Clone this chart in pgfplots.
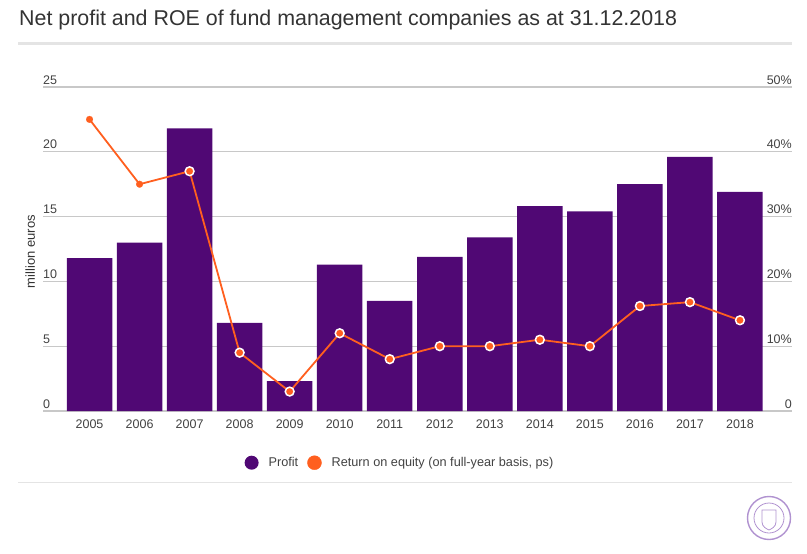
\documentclass[border=0pt]{standalone}
\usepackage{pgfplots}
\pgfplotsset{compat=1.18}
\usepackage{fontspec}
\setmainfont{Liberation Sans}
\definecolor{barpurple}{RGB}{80,8,116}
\definecolor{roeorange}{RGB}{255,95,31}
\definecolor{gridgray}{RGB}{200,200,200}
\definecolor{txtgray}{RGB}{66,66,66}
\definecolor{titlegray}{RGB}{51,51,51}
\definecolor{sealpurple}{RGB}{176,146,208}
\definecolor{rulegray}{RGB}{228,228,228}

\pgfplotstableread{
x profit
0 11.8
1 13.0
2 21.8
3 6.8
4 2.3
5 11.3
6 8.5
7 11.9
8 13.4
9 15.8
10 15.4
11 17.5
12 19.6
13 16.9
}\profittable

\pgfplotstableread{
x roe
0 45.0
1 35.0
2 37.0
3 9.0
4 3.0
5 12.0
6 8.0
7 10.0
8 10.0
9 11.0
10 10.0
11 16.2
12 16.8
13 14.0
}\roetable

\pgfplotstableread{
x roe
0 45.0
1 35.0
}\roeplain

\pgfplotstableread{
x roe
2 37.0
3 9.0
4 3.0
5 12.0
6 8.0
7 10.0
8 10.0
9 11.0
10 10.0
11 16.2
12 16.8
13 14.0
}\roering

\begin{document}
\begin{tikzpicture}
\useasboundingbox (0pt,0pt) rectangle (807pt,-554pt);
\node[anchor=base west, inner sep=0, font=\fontsize{21.4}{25}\selectfont, text=titlegray] at (19pt,-26pt) {Net profit and ROE of fund management companies as at 31.12.2018};
\draw[line width=3pt, rulegray] (18pt,-43pt) -- (791.5pt,-43pt);
\draw[line width=1.2pt, rulegray] (18pt,-482.3pt) -- (791.7pt,-482.3pt);

% seal
\draw[sealpurple, line width=1.4pt] (769pt,-518pt) circle (21.5pt);
\draw[sealpurple, line width=0.8pt] (769pt,-518pt) circle (15pt);
\draw[sealpurple, line width=0.8pt] (762pt,-510pt) -- (776pt,-510pt) -- (776pt,-522pt) .. controls (776pt,-527pt) and (771pt,-529pt) .. (769pt,-530pt) .. controls (767pt,-529pt) and (762pt,-527pt) .. (762pt,-522pt) -- cycle;

\begin{axis}[
  at={(43pt,-411pt)}, anchor=south west, scale only axis,
  width=749pt, height=324pt,
  xmin=-0.93, xmax=14.04, ymin=0, ymax=25,
  axis line style={draw=none},
  major tick length=0pt,
  xtick={0,1,2,3,4,5,6,7,8,9,10,11,12,13},
  xticklabels={2005,2006,2007,2008,2009,2010,2011,2012,2013,2014,2015,2016,2017,2018},
  ytick={0,5,10,15,20,25},
  yticklabels={0,5,10,15,20,25},
  ymajorgrids,
  grid style={gridgray, line width=1.3pt},
  yticklabel style={anchor=south west, inner sep=0pt, yshift=2.5pt, font=\fontsize{12.5}{14}\selectfont, text=txtgray},
  xticklabel style={anchor=center, inner sep=0pt, yshift=-13pt, font=\fontsize{12.5}{14}\selectfont, text=txtgray},
  ylabel={million euros},
  ylabel style={at={(axis description cs:-0.0105,0.492)}, anchor=south, inner sep=0pt, font=\fontsize{13}{15}\selectfont, text=titlegray},
  legend style={at={(axis description cs:0.4766,-0.1596)}, anchor=center, draw=none, fill=none,
    font=\fontsize{12.7}{15}\selectfont, text=txtgray,
    /tikz/every even column/.style={column sep=7pt},
    nodes={inner sep=2pt}},
  legend columns=-1,
]
\addplot[ybar, bar width=0.909, fill=barpurple, draw=none,
  legend image code/.code={\fill[barpurple] (7pt,0pt) circle (7pt); \path (22pt,0pt);}]
  table[x=x, y=profit] {\profittable};
\addlegendentry{Profit}
\addlegendimage{legend image code/.code={\fill[roeorange] (7pt,0pt) circle (7pt); \path (22pt,0pt);}}
\addlegendentry{Return on equity (on full-year basis, ps)}
\end{axis}

\begin{axis}[
  at={(43pt,-411pt)}, anchor=south west, scale only axis,
  width=749pt, height=324pt,
  xmin=-0.93, xmax=14.04, ymin=0, ymax=50,
  axis line style={draw=none},
  major tick length=0pt,
  xtick=\empty,
  ytick={0,10,20,30,40,50},
  yticklabels={0,10\%,20\%,30\%,40\%,50\%},
  yticklabel pos=right,
  yticklabel style={anchor=south east, inner sep=0pt, yshift=2.5pt, font=\fontsize{12.5}{14}\selectfont, text=txtgray},
  clip=false,
]
\addplot[roeorange, line width=1.8pt, no marks] table[x=x, y=roe] {\roetable};
\addplot[only marks, mark=*, mark size=3.4pt, color=roeorange, mark options={fill=roeorange, draw=roeorange, line width=0.2pt}] table[x=x, y=roe] {\roeplain};
\addplot[only marks, mark=*, mark size=4.4pt, color=roeorange, mark options={fill=roeorange, draw=white, line width=1.5pt}] table[x=x, y=roe] {\roering};
\end{axis}
\end{tikzpicture}
\end{document}
